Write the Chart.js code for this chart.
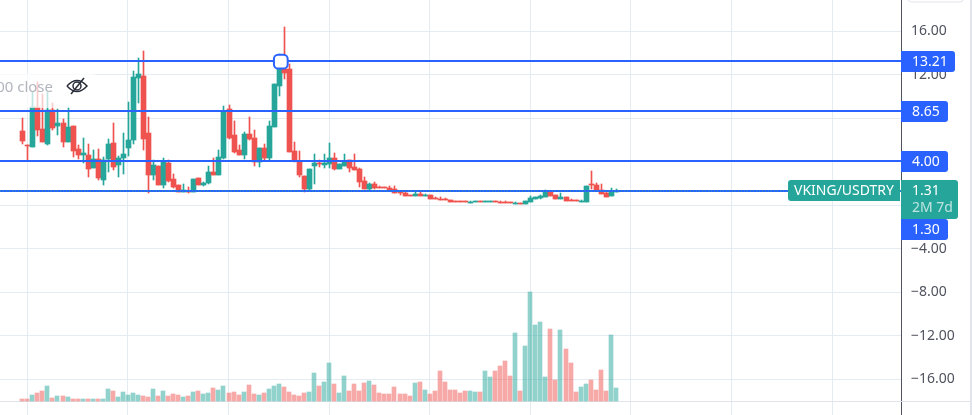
<!DOCTYPE html>
<html lang="en">
<head>
<meta charset="UTF-8">
<title>VKING/USDTRY</title>
<script src="https://cdn.jsdelivr.net/npm/chart.js@4/dist/chart.umd.js"></script>
<style>
    html, body { margin: 0; padding: 0; background: #fff; overflow: hidden; }
    canvas { display: block; }
</style>
</head>
<body>
<canvas id="chart" width="972" height="415"></canvas>
<script>
'use strict';

const opens = [6.81,5.58,5.33,9.01,6.99,5.67,8.74,7.27,7.54,5.79,
    7.27,5.15,4.60,4.60,3.40,4.23,2.30,4.23,5.70,3.68,
    4.32,5.24,5.98,11.68,11.87,6.62,2.76,3.59,1.84,3.86,
    2.39,1.84,1.22,1.29,1.22,2.48,1.84,2.02,3.03,2.76,
    4.32,8.83,6.44,5.06,4.60,6.53,6.16,3.95,5.24,4.32,
    7.17,10.95,12.57,12.51,4.97,4.05,2.67,1.47,3.59,3.86,
    3.68,3.77,4.32,3.31,3.59,4.14,3.50,3.31,2.21,1.47,
    1.93,1.66,1.66,1.56,1.47,1.20,1.10,0.92,0.83,1.01,
    0.83,0.92,0.64,0.61,0.55,0.46,0.37,0.37,0.37,0.21,
    0.28,0.37,0.28,0.28,0.37,0.34,0.28,0.28,0.12,0.18,
    0.12,0.28,0.55,0.64,0.74,1.20,0.92,0.55,0.74,0.46,
    0.46,0.28,0.28,1.93,1.84,1.38,1.10,0.83,1.26];
const closes = [5.89,5.52,9.01,6.90,5.79,8.74,7.08,7.54,5.79,7.17,
    4.97,4.60,4.78,3.31,4.23,2.48,4.14,5.61,3.49,4.32,
    4.69,5.98,11.78,12.05,6.07,2.76,3.68,1.84,4.05,2.21,
    1.65,1.19,1.38,1.19,2.39,1.84,2.02,3.03,2.76,4.41,
    8.65,6.16,4.87,4.60,6.53,6.07,3.95,5.24,4.32,7.27,
    11.13,13.03,12.14,4.87,4.05,2.76,1.47,3.31,3.86,3.77,
    3.86,4.32,3.31,3.77,4.05,3.40,3.22,2.12,1.47,1.93,
    1.56,1.56,1.56,1.38,1.10,1.10,0.83,0.83,1.01,0.83,
    0.92,0.55,0.55,0.46,0.46,0.28,0.28,0.28,0.28,0.31,
    0.37,0.28,0.37,0.37,0.28,0.18,0.18,0.18,0.18,0.12,
    0.37,0.64,0.74,0.83,1.20,0.83,0.55,0.74,0.37,0.37,
    0.37,0.37,1.75,1.84,1.29,1.01,0.74,1.29,1.31];
const highs = [8.00,5.58,10.43,11.35,10.21,10.43,9.38,8.83,7.91,9.01,
    7.27,5.52,6.16,5.61,5.06,5.15,4.41,6.07,7.54,4.51,
    6.62,9.47,12.33,13.52,14.17,8.09,4.14,3.59,4.32,4.14,
    2.85,1.84,1.93,1.65,2.39,2.48,2.11,3.59,4.32,5.06,
    9.11,9.20,7.73,5.52,6.71,8.09,6.90,5.24,5.61,7.73,
    11.13,13.95,16.38,13.03,5.79,4.97,2.67,3.31,4.69,4.14,
    4.69,5.70,4.78,3.77,4.69,4.14,4.69,3.40,2.58,2.02,
    2.12,1.75,1.66,1.75,1.75,1.29,1.20,0.92,1.29,1.29,
    1.01,0.92,0.74,0.74,0.64,0.46,0.37,0.37,0.37,0.40,
    0.37,0.37,0.37,0.37,0.37,0.37,0.37,0.28,0.28,0.18,
    0.37,0.83,0.74,0.92,1.38,1.20,0.92,1.10,0.74,0.55,
    0.46,0.46,1.75,3.13,2.02,1.93,1.20,1.56,1.47];
const lows = [5.61,4.05,5.33,6.35,5.79,5.52,6.90,6.44,5.33,5.79,
    4.41,4.23,3.86,2.57,3.40,2.30,1.84,3.03,3.22,2.57,
    2.85,4.51,5.61,9.38,5.06,1.10,2.30,1.84,1.56,2.11,
    1.56,1.19,1.19,1.10,1.19,1.84,1.75,1.93,2.76,2.76,
    4.23,6.07,4.78,4.60,4.23,5.98,3.59,3.49,4.14,4.05,
    7.17,10.03,11.59,4.87,3.95,2.57,1.19,1.38,1.93,3.49,
    3.40,3.40,3.22,3.31,3.59,3.04,3.22,1.66,1.47,1.29,
    1.47,1.56,1.56,1.38,1.10,0.92,0.83,0.83,0.83,0.83,
    0.83,0.55,0.55,0.46,0.46,0.28,0.28,0.28,0.28,0.21,
    0.28,0.28,0.28,0.28,0.28,0.18,0.18,0.18,0.12,0.12,
    0.12,0.28,0.55,0.55,0.74,0.83,0.55,0.55,0.37,0.37,
    0.37,0.28,0.28,1.47,1.29,1.01,0.74,0.83,1.26];
// volume has no axis of its own in the picture, so these are relative units
const volumes = [2.3,2.3,6.3,8.3,10.3,15.3,3.3,5.3,5.3,4.3,
    2.3,2.3,2.3,2.3,2.3,2.3,2.3,12.3,10.3,4.3,
    9.3,6.3,8.3,6.3,5.3,4.3,12.3,5.3,10.3,5.3,
    7.3,6.3,4.3,5.3,9.3,10.3,7.3,8.3,13.3,11.3,
    15.3,8.3,9.3,6.3,9.3,16.3,7.3,6.3,8.3,12.3,
    15.3,17.3,14.3,9.3,6.3,5.3,8.3,9.3,28.3,15.3,
    19.3,38.3,17.3,8.3,25.3,10.3,17.3,10.3,18.3,20.3,
    16.3,8.3,7.3,7.3,14.3,7.3,7.3,5.3,18.3,19.3,
    11.3,7.3,10.3,30.3,19.3,11.3,11.3,8.3,10.3,10.3,
    9.3,9.3,30.3,24.3,30.3,35.3,40.3,25.3,68.3,10.3,
    55.3,109.3,76.3,79.3,24.3,72.3,21.3,71.3,52.3,38.3,
    9.3,14.3,17.3,21.3,11.3,31.3,10.3,66.3,13.3];

const levels = [13.21, 8.65, 4.00, 1.30];
const lastPrice = 1.31;
const priceTicks = [-16, -12, -8, -4, 0, 4, 8, 12, 16];
const gridBars = [1, 21, 41, 61, 81, 101, 121, 141, 161];
const marker = { bar: 51.4, price: 13.21 };

const UP = '#26a69a', DOWN = '#ef5350', BLUE = '#2962ff', GRID = '#e4ecf2';
const UP_VOL = 'rgba(38,166,154,0.5)', DOWN_VOL = 'rgba(239,83,80,0.5)';
const FONT = '"Noto Sans", sans-serif';
const X_MIN = -4.43, X_MAX = 174.7;

const isUp = i => closes[i] >= opens[i];
const candleColors = opens.map((_, i) => isUp(i) ? UP : DOWN);
const volumeColors = opens.map((_, i) => isUp(i) ? UP_VOL : DOWN_VOL);

// keeps bars and level lines on whole pixels, the original is very crisp
const snapPlugin = {
    id: 'snap',
    beforeDatasetsDraw(chart) {
        chart.getSortedVisibleDatasetMetas().forEach(meta => {
            const ds = chart.data.datasets[meta.index];
            if (meta.type === 'bar') {
                meta.data.forEach(el => {
                    el.x = Math.round(el.x) + (ds.barThickness % 2 ? 0.5 : 0);
                    el.y = Math.round(el.y);
                    el.base = Math.round(el.base);
                    if (el.y === el.base) el.base += 1;
                });
            } else if (ds.snapLine) {
                meta.data.forEach(el => { el.y = Math.floor(el.y); });
            }
        });
    }
};

function badge(ctx, x, y, w, h, color, radii) {
    ctx.fillStyle = color;
    ctx.beginPath();
    ctx.roundRect(x, y, w, h, radii);
    ctx.fill();
}

function drawEye(ctx, cx, cy) {
    ctx.save();
    ctx.strokeStyle = '#2a2e39';
    ctx.lineWidth = 1.5;
    ctx.beginPath();
    ctx.moveTo(cx - 10, cy);
    ctx.quadraticCurveTo(cx, cy - 11, cx + 10, cy);
    ctx.quadraticCurveTo(cx, cy + 11, cx - 10, cy);
    ctx.stroke();
    ctx.beginPath();
    ctx.arc(cx, cy, 4, 0, Math.PI * 2);
    ctx.stroke();
    ctx.beginPath();
    ctx.moveTo(cx + 7, cy - 8);
    ctx.lineTo(cx - 6, cy + 8);
    ctx.stroke();
    ctx.restore();
}

const overlayPlugin = {
    id: 'overlay',
    beforeDatasetsDraw(chart) {
        const ctx = chart.ctx;
        const base = chart.scales.yVol.getPixelForValue(0);
        ctx.save();
        ctx.fillStyle = '#e0e3eb';
        ctx.fillRect(0, Math.round(base), 970, 1);
        ctx.fillRect(970, 0, 2, 415);
        ctx.strokeStyle = '#e0e3eb';
        ctx.beginPath();
        ctx.roundRect(907.5, -8, 56, 10, 4);
        ctx.stroke();
        ctx.restore();
    },
    afterDraw(chart) {
        const ctx = chart.ctx;
        const y = chart.scales.y;
        const right = chart.chartArea.right;
        ctx.save();

        // the faded legend row at the top left
        ctx.fillStyle = 'rgba(255,255,255,0.7)';
        ctx.fillRect(0, 74, 95, 34);
        ctx.fillStyle = '#b2b5be';
        ctx.font = '15px ' + FONT;
        ctx.textAlign = 'right';
        ctx.textBaseline = 'alphabetic';
        ctx.fillText('00 close', 53, 92);
        drawEye(ctx, 77, 86);

        ctx.textAlign = 'left';
        ctx.textBaseline = 'middle';
        ctx.font = '14px ' + FONT;

        // level badges, the last one is pushed down under the price badge
        const widths = [54, 47, 47, 47];
        levels.forEach((level, i) => {
            const top = i === 3 ? 219 : Math.floor(y.getPixelForValue(level)) - 10;
            badge(ctx, right, top, widths[i], 21, BLUE, [0, 3, 3, 0]);
            ctx.fillStyle = '#fff';
            ctx.fillText(level.toFixed(2), right + 11, top + 11);
        });

        const top = Math.floor(y.getPixelForValue(lastPrice)) - 11;
        badge(ctx, 788, top, 112, 21, UP, [3, 0, 0, 3]);
        badge(ctx, right, top, 57, 39, UP, [0, 3, 3, 0]);
        ctx.fillStyle = '#fff';
        ctx.fillText('VKING/USDTRY', 794, top + 11);
        ctx.fillText(lastPrice.toFixed(2), right + 11, top + 11);
        ctx.fillStyle = 'rgba(255,255,255,0.7)';
        ctx.fillText('2M 7d', right + 11, top + 28);
        ctx.restore();
    }
};

const levelLine = price => ({
    type: 'line',
    data: [{ x: X_MIN, y: price }, { x: X_MAX, y: price }],
    borderColor: BLUE,
    borderWidth: 2,
    pointRadius: 0,
    snapLine: true,
    order: 2
});

// Chart.js reserves room for half a tick label, the picture runs to the canvas edge
function noMargins(scale) {
    scale.paddingTop = scale.paddingBottom = scale.paddingLeft = scale.paddingRight = 0;
}

new Chart(document.getElementById('chart'), {
    type: 'bar',
    data: {
        datasets: [
            {
                type: 'line',
                data: [{ x: marker.bar, y: marker.price }],
                showLine: false,
                pointStyle: 'rectRounded',
                pointRadius: 8,
                pointBackgroundColor: '#fff',
                pointBorderColor: BLUE,
                pointBorderWidth: 2,
                order: 0
            },
            {
                type: 'line',
                data: [{ x: X_MIN, y: lastPrice }, { x: X_MAX, y: lastPrice }],
                borderColor: UP,
                borderWidth: 1,
                borderDash: [1, 2],
                pointRadius: 0,
                snapLine: true,
                order: 1
            },
            ...levels.map(levelLine),
            {
                data: opens.map((o, i) => ({ x: i, y: [o, closes[i]] })),
                backgroundColor: candleColors,
                barThickness: 5,
                grouped: false,
                order: 3
            },
            {
                data: opens.map((_, i) => ({ x: i, y: [lows[i], highs[i]] })),
                backgroundColor: candleColors,
                barThickness: 1,
                grouped: false,
                order: 4
            },
            {
                yAxisID: 'yVol',
                data: volumes.map((v, i) => ({ x: i, y: v })),
                backgroundColor: volumeColors,
                barThickness: 4,
                grouped: false,
                order: 5
            }
        ]
    },
    options: {
        responsive: false,
        animation: false,
        layout: { padding: 0, autoPadding: false },
        plugins: { legend: { display: false }, tooltip: { enabled: false } },
        scales: {
            x: {
                type: 'linear',
                offset: false,
                min: X_MIN,
                max: X_MAX,
                afterBuildTicks: s => { s.ticks = gridBars.map(v => ({ value: v })); },
                afterFit: s => { s.height = 0; noMargins(s); },
                ticks: { display: false },
                border: { display: false },
                grid: { color: GRID, drawTicks: false, offset: false }
            },
            y: {
                position: 'right',
                min: -19.28,
                max: 18.88,
                afterBuildTicks: s => { s.ticks = priceTicks.map(v => ({ value: v })); },
                afterFit: s => { s.width = 71; noMargins(s); },
                ticks: {
                    padding: 10,
                    autoSkip: false,
                    color: '#50535e',
                    font: { family: FONT, size: 14 },
                    callback: v => (v < 0 ? '\u2212' : '') + Math.abs(v).toFixed(2)
                },
                border: { color: '#50535e' },
                grid: { color: GRID, drawTicks: false }
            },
            yVol: {
                display: false,
                min: -14,
                max: 401
            }
        }
    },
    plugins: [snapPlugin, overlayPlugin]
});
</script>
</body>
</html>
